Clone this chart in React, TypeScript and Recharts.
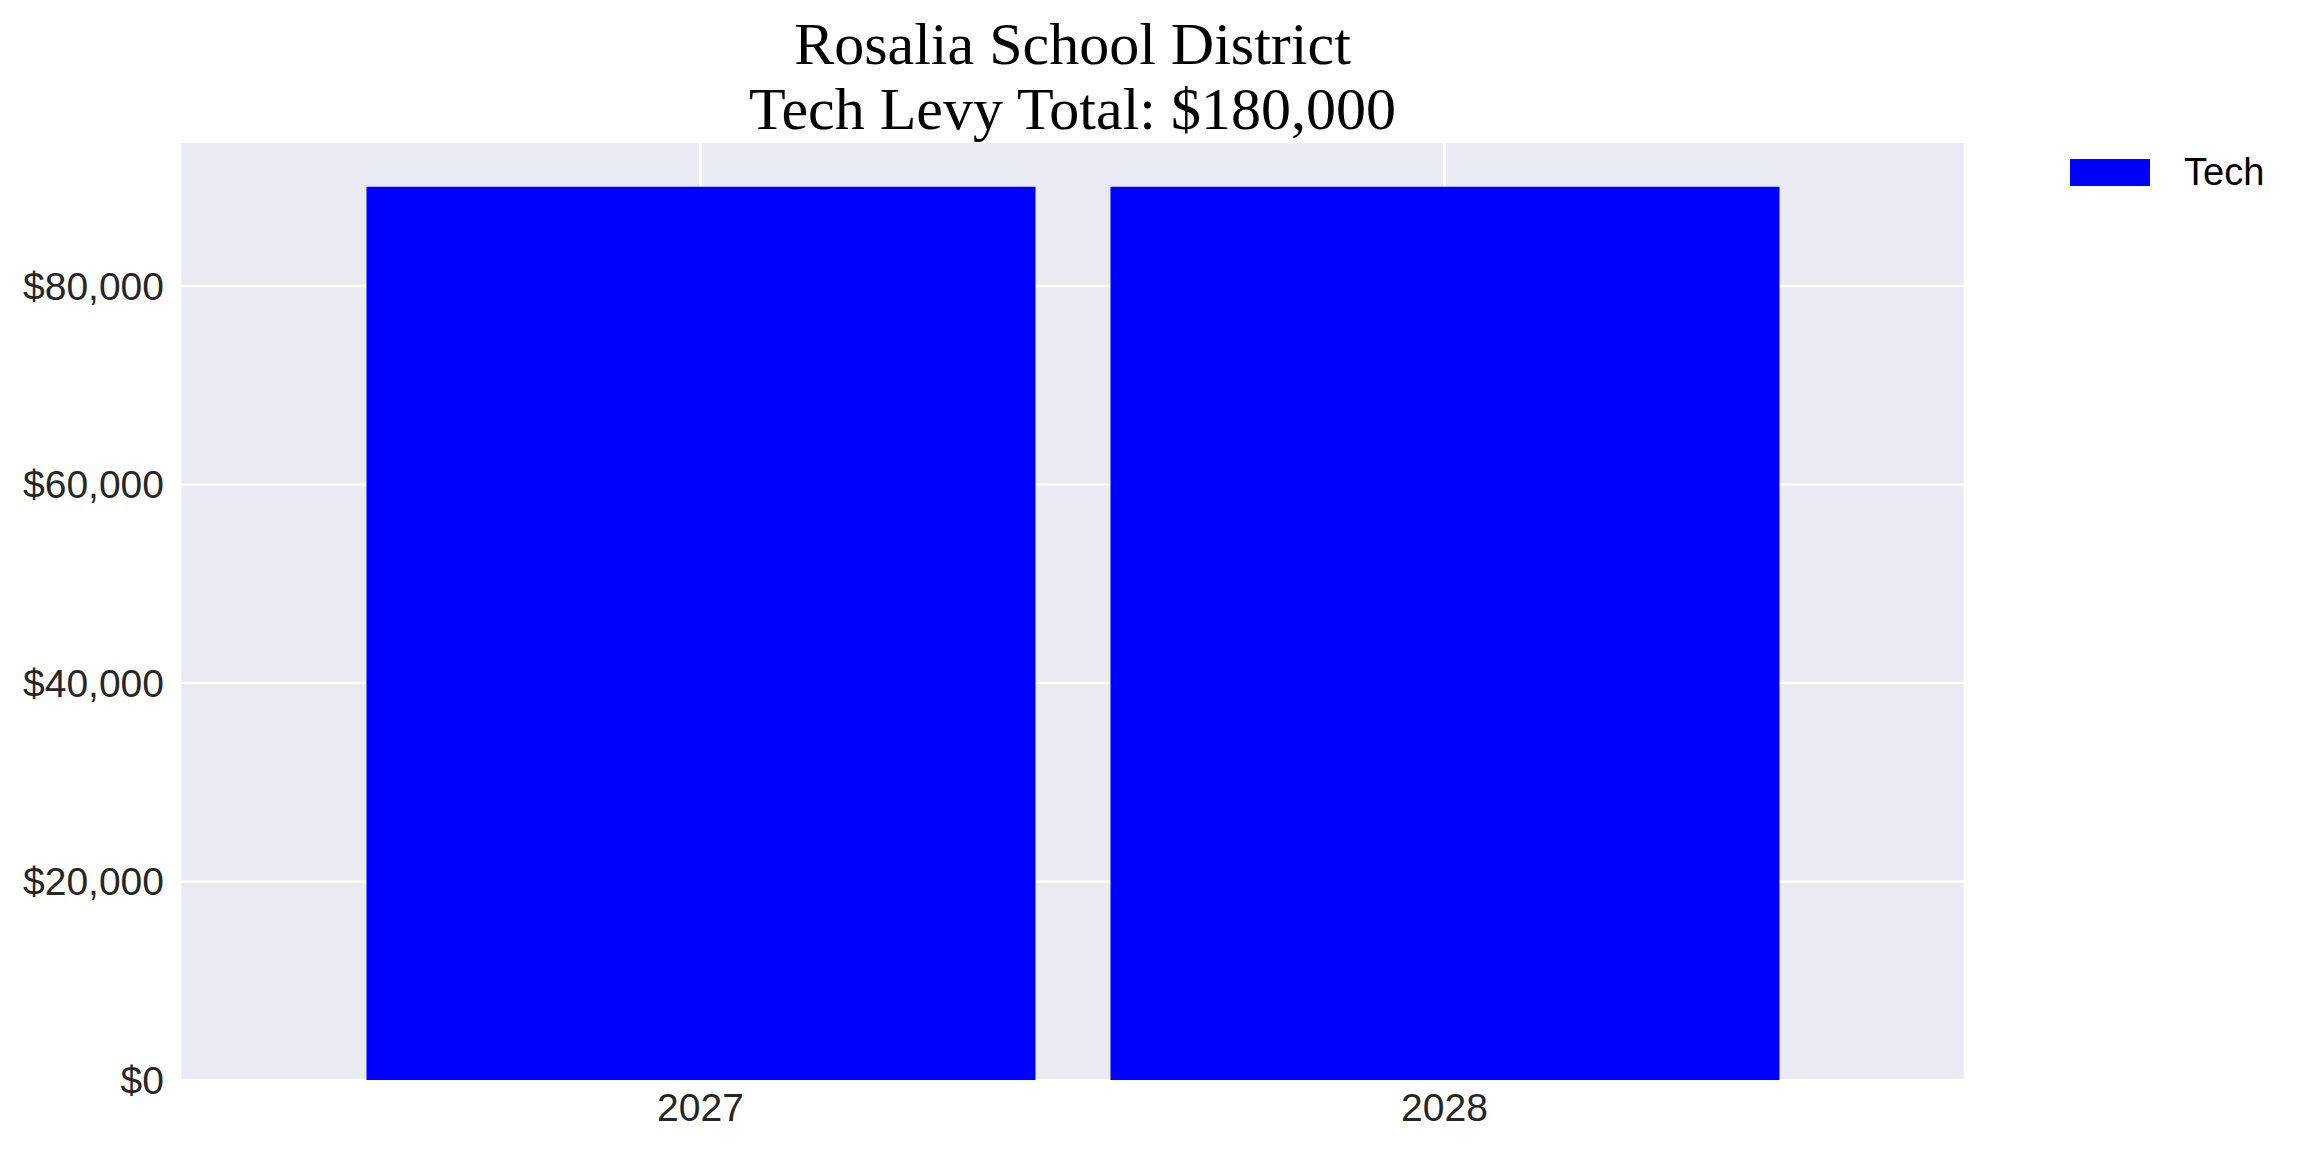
import React from 'react';
import { BarChart, Bar, XAxis, YAxis, CartesianGrid, Legend } from 'recharts';

const years = ['2027', '2028'];
const techValues = [90000, 90000];
const yTicks = [0, 20000, 40000, 60000, 80000];
const titleLines = ['Rosalia School District', 'Tech Levy Total: $180,000'];

const data = years.map((year, i) => ({ year, Tech: techValues[i] }));

const sans = '"Liberation Sans", Arial, sans-serif';
const serif = '"Liberation Serif", "Times New Roman", serif';

const money = (v: number) => `$${v.toLocaleString('en-US')}`;

const LegendBox = ({ payload }: any) => (
  <div>
    {(payload || []).map((entry: any) => (
      <div key={entry.value} style={{ display: 'flex', alignItems: 'center', height: 38 }}>
        <svg width={80} height={27} style={{ display: 'block' }}>
          <rect width={80} height={27} fill={entry.color} />
        </svg>
        <span style={{ marginLeft: 34, fontSize: 38, lineHeight: '38px', color: '#000', fontFamily: sans }}>
          {entry.value}
        </span>
      </div>
    ))}
  </div>
);

export default function App() {
  return (
    <div style={{ position: 'absolute', left: 0, top: 0, width: 2304, height: 1152, background: '#fff' }}>
      <BarChart
        width={2304}
        height={1152}
        data={data}
        margin={{ top: 142, right: 339, bottom: 0, left: 0 }}
      >
        <CartesianGrid fill="#EAEAF2" stroke="#FFFFFF" strokeWidth={2.6} />
        <XAxis
          dataKey="year"
          height={72}
          padding={{ left: 148.5, right: 148.5 }}
          axisLine={false}
          tickLine={false}
          tickSize={0}
          tickMargin={13}
          tick={{ fontSize: 39, fill: '#262626', fontFamily: sans }}
        />
        <YAxis
          width={180}
          domain={[0, 94500]}
          ticks={yTicks}
          tickFormatter={money}
          axisLine={false}
          tickLine={false}
          tickSize={0}
          tickMargin={16}
          tick={{ fontSize: 39, fill: '#262626', fontFamily: sans }}
        />
        <Legend
          layout="vertical"
          align="center"
          verticalAlign="middle"
          wrapperStyle={{ left: 2070, top: 153 }}
          content={<LegendBox />}
        />
        <Bar dataKey="Tech" fill="#0000FF" barSize={669} isAnimationActive={false} />
        <text textAnchor="middle" fontFamily={serif} fontSize={60} fill="#000">
          <tspan x={1072.5} y={64}>{titleLines[0]}</tspan>
          <tspan x={1072.5} y={129}>{titleLines[1]}</tspan>
        </text>
      </BarChart>
    </div>
  );
}
